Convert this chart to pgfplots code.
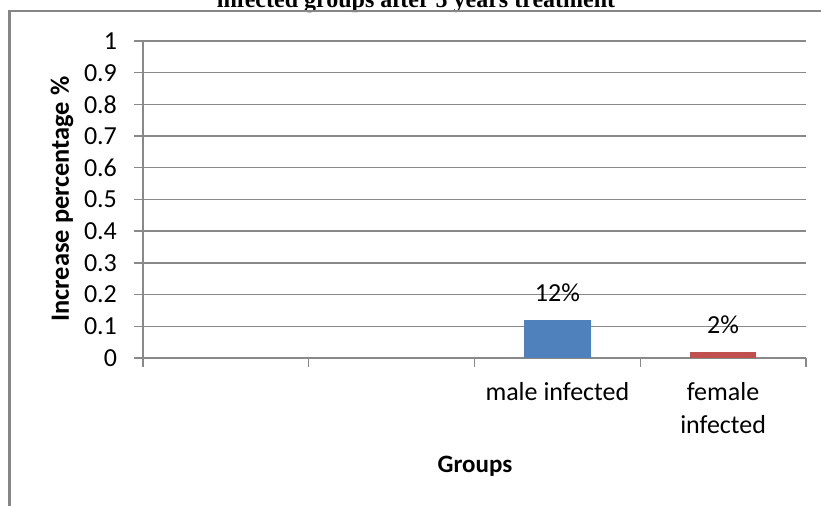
\documentclass[border=0pt]{standalone}
\usepackage{pgfplots}
\pgfplotsset{compat=1.18}
\usepackage{fontspec}
\setmainfont{Carlito}
\newfontfamily\timesfont{Liberation Serif}
\definecolor{gridgray}{HTML}{898989}
\definecolor{framegray}{HTML}{868686}
\definecolor{barblue}{HTML}{4F81BD}
\definecolor{barred}{HTML}{C0504D}
\begin{document}
\begin{tikzpicture}
\useasboundingbox (0,0) rectangle (410.5pt,253pt);
\begin{scope}
\clip (0,0) rectangle (410.5pt,253pt);
\node[anchor=base, inner sep=0pt, font=\timesfont\bfseries\fontsize{12}{14}\selectfont] at (208pt,249pt) {infected groups after 5 years treatment};
\draw[framegray, line width=1.2pt] (4.75pt,-5pt) -- (4.75pt,247.5pt) -- (420pt,247.5pt);
\end{scope}
\node[rotate=90, inner sep=0pt, font=\bfseries\fontsize{13.2}{15}\selectfont] at (31pt,153.5pt) {Increase percentage \%};
\node[anchor=base, inner sep=0pt, font=\bfseries\fontsize{12.5}{14}\selectfont] at (237.5pt,16.5pt) {Groups};
\begin{axis}[
  at={(71.5pt,74pt)}, anchor=south west,
  scale only axis, width=331.5pt, height=158.5pt,
  xmin=-0.5, xmax=3.5, ymin=0, ymax=1,
  ybar, bar width=0.4, bar shift=0pt,
  separate axis lines,
  axis x line*=bottom, axis y line*=left,
  axis line style={gridgray, line width=0.7pt, -},
  ytick={0,0.1,...,1.01},
  yticklabel style={/pgf/number format/fixed, /pgf/number format/precision=1, xshift=-5pt, font=\fontsize{13}{15}\selectfont},
  /pgf/number format/assume math mode=true,
  ymajorgrids, grid style={gridgray, line width=0.7pt},
  xtick={0,1,2,3},
  xticklabels={,,male infected,female\\infected},
  xticklabel style={align=center, font=\fontsize{13}{16.5}\selectfont, yshift=-4pt},
  tick style={gridgray, line width=0.7pt},
  major tick length=4.5pt, tick align=outside,
  x tick style={draw=none},
  minor xtick={-0.5,0.5,1.5,2.5,3.5},
  minor tick length=4.5pt,
  minor x tick style={draw=gridgray, line width=0.7pt},
  point meta=explicit symbolic,
  nodes near coords,
  nodes near coords style={anchor=base, inner sep=0pt, yshift=9pt, font=\fontsize{13}{15}\selectfont, black},
  clip=false,
]
\addplot[fill=barblue, draw=none] coordinates {(2,0.12) [12\%]};
\addplot[fill=barred, draw=none] coordinates {(3,0.02) [2\%]};
\end{axis}
\end{tikzpicture}
\end{document}
